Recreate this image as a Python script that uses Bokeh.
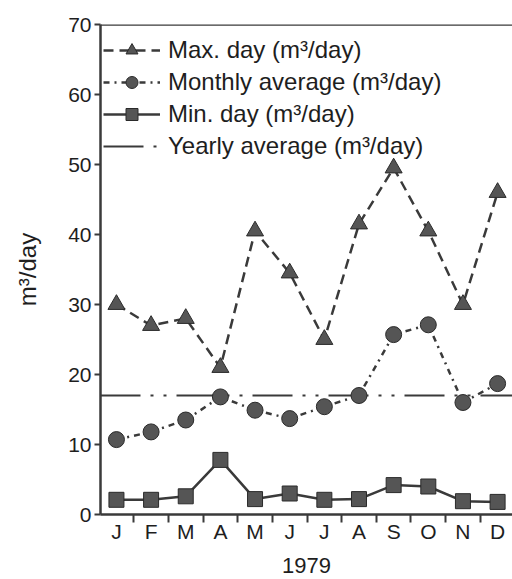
from bokeh.plotting import figure
from bokeh.models import FixedTicker, Span, Legend, LegendItem, ColumnDataSource
from bokeh.embed import file_html
from bokeh.resources import INLINE

# ---- data ----
months = ["J", "F", "M", "A", "M", "J", "J", "A", "S", "O", "N", "D"]
max_day = [30, 27, 28, 21, 40.5, 34.5, 25, 41.5, 49.5, 40.5, 30, 46]
monthly_avg = [10.7, 11.8, 13.5, 16.8, 14.9, 13.7, 15.4, 17.0, 25.7, 27.1, 16.0, 18.7]
min_day = [2.1, 2.1, 2.6, 7.8, 2.2, 3.0, 2.1, 2.2, 4.2, 4.0, 1.9, 1.8]
yearly_avg = 17.0
y_ticks = [0, 10, 20, 30, 40, 50, 60, 70]
year_label = "1979"
y_label = "m\u00b3/day"

FONT = "Liberation Sans"
TXT = "#1e1e1e"
LINE = "#3a3a3a"
FILL = "#555555"
EDGE = "#2a2a2a"

idx = list(range(len(months)))
src = ColumnDataSource(dict(x=idx, mx=max_day, av=monthly_avg, mn=min_day))

y0, y1 = y_ticks[0], y_ticks[-1]
x0, x1 = -0.46, 11.43

p = figure(width=512, height=579, x_range=(x0, x1), y_range=(y0, y1),
           output_backend="svg", toolbar_location=None,
           min_border_left=100, min_border_right=0, min_border_top=24, min_border_bottom=65)
p.grid.visible = False
p.outline_line_color = None
p.background_fill_color = "white"
p.border_fill_color = "white"

# top border line
p.add_layout(Span(location=y1, dimension="width", line_color=LINE, line_width=2.5))

# yearly average
yr = p.line(x=[x0, x1], y=[yearly_avg, yearly_avg], line_color=LINE, line_width=2,
            line_dash="40 10 3 10 3 10")

# max day
l1 = p.line("x", "mx", source=src, line_color=LINE, line_width=2.5, line_dash="10 6")
s1 = p.scatter("x", "mx", source=src, marker="triangle", size=17, fill_color=FILL, line_color=EDGE)
# monthly average
l2 = p.line("x", "av", source=src, line_color=LINE, line_width=2.5, line_dash="6 5 2 5")
s2 = p.scatter("x", "av", source=src, marker="circle", size=16, fill_color=FILL, line_color=EDGE)
# min day
l3 = p.line("x", "mn", source=src, line_color=LINE, line_width=2.5)
s3 = p.scatter("x", "mn", source=src, marker="square", size=15, fill_color=FILL, line_color=EDGE)

# axes
xa = p.xaxis[0]
xa.ticker = FixedTicker(ticks=idx, minor_ticks=[i + 0.5 for i in idx[:-1]])
xa.major_label_overrides = {i: m for i, m in zip(idx, months)}
xa.major_tick_line_color = None
xa.major_tick_out = 0
xa.major_tick_in = 0
xa.minor_tick_out = 8
xa.minor_tick_in = 0
xa.minor_tick_line_width = 2
xa.minor_tick_line_color = LINE
xa.axis_line_width = 2.5
xa.axis_line_color = LINE
xa.major_label_standoff = -3
xa.major_label_text_font = FONT
xa.major_label_text_font_size = "21px"
xa.major_label_text_color = TXT
xa.axis_label = year_label
xa.axis_label_text_font = FONT
xa.axis_label_text_font_size = "22px"
xa.axis_label_text_font_style = "normal"
xa.axis_label_text_color = TXT
xa.axis_label_standoff = 12

ya = p.yaxis[0]
ya.ticker = FixedTicker(ticks=y_ticks, minor_ticks=[])
ya.major_tick_out = 6
ya.major_tick_in = 0
ya.major_tick_line_width = 2
ya.major_tick_line_color = LINE
ya.axis_line_width = 2.5
ya.axis_line_color = LINE
ya.major_label_standoff = 3
ya.major_label_text_font = FONT
ya.major_label_text_font_size = "21px"
ya.major_label_text_color = TXT
ya.axis_label = y_label
ya.axis_label_text_font = FONT
ya.axis_label_text_font_size = "24px"
ya.axis_label_text_font_style = "normal"
ya.axis_label_text_color = TXT
ya.axis_label_standoff = 24

legend = Legend(items=[
    LegendItem(label="Max. day (m\u00b3/day)", renderers=[l1, s1]),
    LegendItem(label="Monthly average (m\u00b3/day)", renderers=[l2, s2]),
    LegendItem(label="Min. day (m\u00b3/day)", renderers=[l3, s3]),
    LegendItem(label="Yearly average (m\u00b3/day)", renderers=[yr]),
], location=(3, 353), glyph_width=57, glyph_height=30, label_height=30, spacing=2,
    padding=0, margin=0, label_standoff=8, label_text_font=FONT, label_text_font_size="24px",
    label_text_color=TXT, border_line_color=None, background_fill_alpha=0)
p.add_layout(legend)

open("out.html", "w").write(file_html(p, INLINE))
